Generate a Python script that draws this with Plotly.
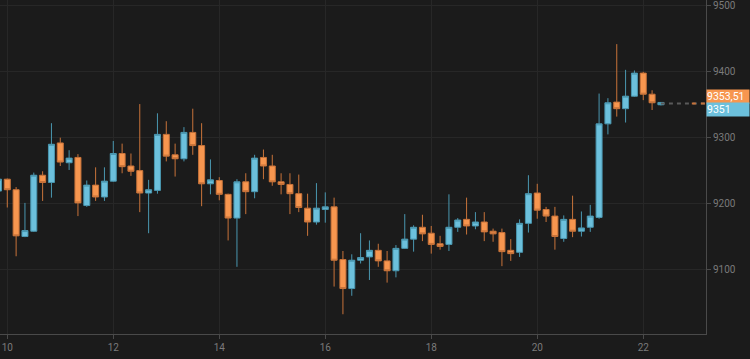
import pandas as pd
import plotly.graph_objects as go

# 4-hour candles, first one at 2020-07-09 20:00
start_time = "2020-07-09 20:00"
opens = [9219, 9237, 9221, 9150, 9158, 9243, 9232, 9292, 9262, 9270,
         9197, 9228, 9210, 9234, 9276, 9257, 9250, 9216, 9220, 9305,
         9274, 9268, 9308, 9288, 9230, 9235, 9214, 9178, 9233, 9218,
         9270, 9257, 9233, 9229, 9215, 9193, 9172, 9191, 9195, 9115,
         9071, 9114, 9119, 9129, 9113, 9098, 9132, 9146, 9164, 9155,
         9139, 9138, 9164, 9176, 9166, 9172, 9158, 9156, 9129, 9126,
         9170, 9216, 9191, 9181, 9147, 9176, 9158, 9164, 9179, 9321,
         9354, 9344, 9363, 9398, 9366, 9350]
highs = [9238, 9238, 9225, 9201, 9247, 9249, 9322, 9300, 9281, 9275,
         9235, 9255, 9255, 9295, 9291, 9276, 9351, 9236, 9337, 9325,
         9291, 9316, 9344, 9322, 9267, 9240, 9215, 9237, 9246, 9274,
         9282, 9274, 9246, 9246, 9244, 9215, 9231, 9217, 9209, 9128,
         9123, 9155, 9144, 9139, 9128, 9137, 9184, 9167, 9183, 9166,
         9151, 9214, 9178, 9209, 9187, 9187, 9162, 9162, 9146, 9176,
         9243, 9230, 9195, 9195, 9182, 9212, 9188, 9198, 9367, 9360,
         9442, 9403, 9402, 9400, 9372, 9354]
lows = [9218, 9194, 9120, 9149, 9157, 9204, 9209, 9257, 9251, 9181,
        9195, 9204, 9204, 9233, 9246, 9242, 9187, 9155, 9215, 9264,
        9241, 9264, 9274, 9196, 9214, 9205, 9144, 9104, 9184, 9208,
        9237, 9227, 9214, 9184, 9187, 9151, 9168, 9171, 9074, 9032,
        9060, 9109, 9084, 9104, 9080, 9088, 9131, 9127, 9143, 9124,
        9130, 9128, 9157, 9153, 9161, 9143, 9142, 9105, 9113, 9119,
        9156, 9177, 9172, 9130, 9142, 9149, 9150, 9157, 9177, 9305,
        9332, 9323, 9362, 9357, 9342, 9349]
closes = [9237, 9221, 9151, 9159, 9243, 9232, 9290, 9263, 9269, 9201,
          9228, 9210, 9234, 9276, 9256, 9249, 9216, 9221, 9305, 9272,
          9268, 9308, 9288, 9230, 9236, 9214, 9178, 9233, 9218, 9269,
          9257, 9233, 9229, 9215, 9194, 9172, 9193, 9195, 9114, 9071,
          9114, 9118, 9129, 9113, 9098, 9132, 9146, 9164, 9154, 9138,
          9135, 9164, 9175, 9166, 9172, 9157, 9154, 9127, 9124, 9170,
          9215, 9190, 9181, 9150, 9176, 9158, 9163, 9181, 9321, 9353,
          9344, 9363, 9398, 9366, 9353, 9353.5]

last_price = 9352
label_orange = "9353,51"
label_blue = "9351"
label_orange_y = 9363
label_blue_y = 9343

x_start = "2020-07-09 20:42"
x_end = "2020-07-23 04:25"
y_range = [9002, 9509]
tick_dates = ["2020-07-10", "2020-07-12", "2020-07-14", "2020-07-16",
              "2020-07-18", "2020-07-20", "2020-07-22"]
tick_text = ["10", "12", "14", "16", "18", "20", "22"]

times = pd.date_range(start_time, periods=len(opens), freq="4h")

BG = "#1b1b1b"
BLUE = "#6cc0dc"
BLUE_D = "#4a97b0"
ORANGE = "#f7964f"
ORANGE_D = "#c8733a"
GRID = "#272727"
AXIS = "#4a4a4a"
TXT = "#7a7a7a"

fig = go.Figure()
fig.add_trace(go.Candlestick(
    x=times, open=opens, high=highs, low=lows, close=closes,
    increasing=dict(line=dict(color=BLUE_D, width=1), fillcolor=BLUE),
    decreasing=dict(line=dict(color=ORANGE_D, width=1), fillcolor=ORANGE),
    whiskerwidth=0, showlegend=False, hoverinfo="skip",
))

# dashed current-price line from last candle to the axis
fig.add_trace(go.Scatter(
    x=[times[-1], pd.Timestamp(x_end)], y=[last_price, last_price],
    mode="lines", line=dict(color="#5a5a5a", width=2, dash="4px,4px"),
    showlegend=False, hoverinfo="skip",
))
fig.add_trace(go.Scatter(
    x=[times[-1] + pd.Timedelta(hours=14), pd.Timestamp(x_end)],
    y=[last_price, last_price],
    mode="lines", line=dict(color=ORANGE_D, width=2, dash="4px,5px"),
    showlegend=False, hoverinfo="skip",
))

fig.add_annotation(xref="paper", x=1.0, xanchor="left", yref="y", y=label_orange_y,
                   text=label_orange, showarrow=False, bgcolor=ORANGE,
                   font=dict(color="white", size=10.5, family="Roboto"),
                   width=42, height=13, align="left", borderpad=0)
fig.add_annotation(xref="paper", x=1.0, xanchor="left", yref="y", y=label_blue_y,
                   text=label_blue, showarrow=False, bgcolor=BLUE,
                   font=dict(color="white", size=10.5, family="Roboto"),
                   width=42, height=13, align="left", borderpad=0)

fig.update_layout(
    width=750, height=359,
    margin=dict(l=0, r=44, t=0, b=25),
    paper_bgcolor=BG, plot_bgcolor=BG,
    boxgap=0.32, boxgroupgap=0.0,
    font=dict(family="Roboto", color=TXT, size=10),
    xaxis=dict(
        range=[x_start, x_end], rangeslider=dict(visible=False),
        tickvals=tick_dates, ticktext=tick_text,
        showgrid=True, gridcolor=GRID, gridwidth=1,
        showline=True, linecolor=AXIS, linewidth=1,
        ticks="outside", ticklen=4, tickcolor=AXIS,
        tickfont=dict(color=TXT, size=10), zeroline=False,
    ),
    yaxis=dict(
        range=y_range, side="right", dtick=100,
        showgrid=True, gridcolor=GRID, gridwidth=1,
        showline=True, linecolor=AXIS, linewidth=1,
        ticks="outside", ticklen=4, tickcolor=AXIS,
        tickfont=dict(color=TXT, size=10), zeroline=False,
        tickformat="d",
    ),
)

fig.write_html("out.html",
               config={"displayModeBar": False},
               post_script="document.body.style.margin='0';document.body.style.background='%s';" % BG)
